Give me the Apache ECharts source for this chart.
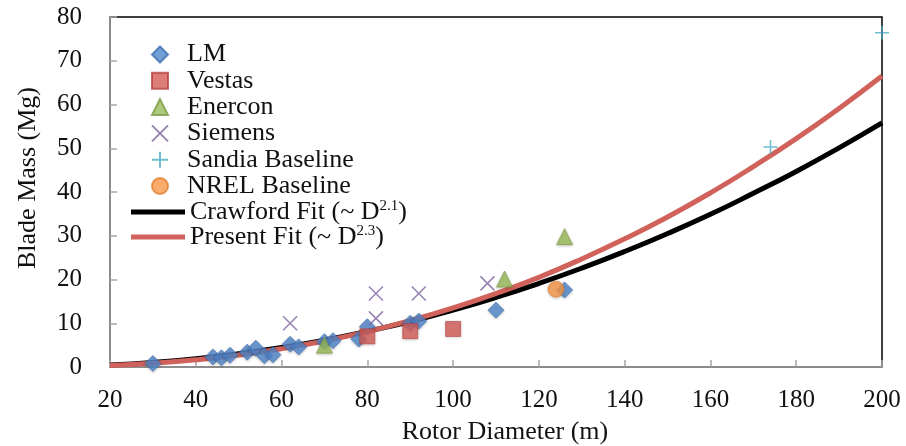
<!DOCTYPE html>
<html>
<head>
<meta charset="utf-8">
<script src="https://cdn.jsdelivr.net/npm/echarts@6/dist/echarts.min.js"></script>
<style>
  html, body { margin: 0; padding: 0; background: #ffffff; }
  #chart { width: 906px; height: 446px; }
</style>
</head>
<body>
<div id="chart"></div>
<script>
// Blade mass vs rotor diameter, by manufacturer, with two power-law fits
const xTicks = [20, 40, 60, 80, 100, 120, 140, 160, 180, 200];
const yTicks = [0, 10, 20, 30, 40, 50, 60, 70, 80];

const lmD    = [30, 44, 46, 48, 52, 54, 56, 58, 62, 64, 70, 72, 78, 80, 90, 92, 110, 126];
const lmMass = [0.8, 2.3, 2.1, 2.7, 3.4, 4.3, 2.6, 2.8, 5.2, 4.6, 5.8, 6.0, 6.4, 9.2, 10.0, 10.5, 13.0, 17.6];

const vestasD    = [80, 90, 100];
const vestasMass = [7.0, 8.2, 8.7];

const enerconD    = [70, 112, 126];
const enerconMass = [5.0, 20.1, 29.8];

const siemensD    = [62, 82, 82, 92, 108];
const siemensMass = [10.0, 11.1, 16.8, 16.8, 19.1];

const sandiaD    = [174, 200];
const sandiaMass = [50.3, 76.4];

const nrelD    = [124];
const nrelMass = [17.8];

// Fit curves sampled every 10 m
const fitD         = [20, 30, 40, 50, 60, 70, 80, 90, 100, 110, 120, 130, 140, 150, 160, 170, 180, 190, 200];
const crawfordMass = [0.44, 1.04, 1.9, 3.04, 4.45, 6.15, 8.15, 10.4, 13.0, 15.9, 19.1, 22.6, 26.4, 30.5, 34.9, 39.7, 44.7, 50.1, 55.8];
const presentMass  = [0.33, 0.85, 1.64, 2.74, 4.17, 5.94, 8.08, 10.6, 13.5, 16.8, 20.5, 24.7, 29.3, 34.3, 39.8, 45.8, 52.2, 59.1, 66.5];

const pairs = (xs, ys) => xs.map((x, i) => [x, ys[i]]);

const FONT = "'Liberation Serif', 'Times New Roman', serif";
const markerShadow = { shadowBlur: 3, shadowColor: 'rgba(0,0,0,0.25)', shadowOffsetY: 1 };

const fitLegend = (name, label, top) => ({
  orient: 'vertical', left: 131, top: top, padding: 0, itemWidth: 54, itemHeight: 5,
  data: [{ name: name, icon: 'rect' }],
  formatter: () => label,
  textStyle: {
    fontFamily: FONT, fontSize: 26, color: '#111',
    rich: {
      t: { fontFamily: FONT, fontSize: 26, color: '#111', lineHeight: 26 },
      s: { fontFamily: FONT, fontSize: 15, color: '#111', lineHeight: 18, verticalAlign: 'top', padding: [0, 0, 8, 0] }
    }
  }
});

const chart = echarts.init(document.getElementById('chart'), null, { renderer: 'canvas' });

chart.setOption({
  backgroundColor: '#ffffff',
  animation: false,
  grid: {
    left: 110, right: 24, top: 17, bottom: 79, outerBoundsMode: 'none', containLabel: false,
    show: true, borderColor: '#000000', borderWidth: 1.5, backgroundColor: 'transparent'
  },
  xAxis: {
    type: 'value', min: 20, max: 200, interval: 20,
    name: 'Rotor Diameter (m)', nameLocation: 'middle', nameGap: 52,
    nameTextStyle: { fontFamily: FONT, fontSize: 26, color: '#111', padding: [0, 0, 0, 18] },
    axisLine: { show: true, lineStyle: { color: '#a6a6a6', width: 1.5 } },
    axisTick: { show: true, inside: true, length: 7, lineStyle: { color: '#a6a6a6', width: 1.5 } },
    axisLabel: { fontFamily: FONT, fontSize: 25, color: '#111', margin: 21,
      formatter: v => xTicks.includes(v) ? String(v) : '' },
    splitLine: { show: false }
  },
  yAxis: {
    type: 'value', min: 0, max: 80, interval: 10,
    name: 'Blade Mass (Mg)', nameLocation: 'middle', nameGap: 69,
    nameTextStyle: { fontFamily: FONT, fontSize: 26, color: '#111', padding: [0, 0, 0, 28] },
    axisLine: { show: true, lineStyle: { color: '#a6a6a6', width: 1.5 } },
    axisTick: { show: true, inside: true, length: 7, lineStyle: { color: '#a6a6a6', width: 1.5 } },
    axisLabel: { fontFamily: FONT, fontSize: 25, color: '#111', margin: 28,
      formatter: v => yTicks.includes(v) ? String(v) : '' },
    splitLine: { show: false }
  },
  legend: [
    {
      orient: 'vertical', left: 151, top: 41.5, padding: 0, itemWidth: 16, itemHeight: 16, itemGap: 0.3,
      data: ['LM', 'Vestas', 'Enercon', 'Siemens', 'Sandia Baseline', 'NREL Baseline'],
      textStyle: { fontFamily: FONT, fontSize: 26, color: '#111', padding: [0, 0, 0, 14] }
    },
    fitLegend('Crawford Fit', '{t|Crawford Fit (~ D}{s|2.1}{t|)}', 199),
    fitLegend('Present Fit', '{t|Present Fit (~ D}{s|2.3}{t|)}', 224)
  ],
  series: [
    {
      name: 'Crawford Fit', type: 'line', data: pairs(fitD, crawfordMass), smooth: true,
      showSymbol: false, lineStyle: { color: '#000000', width: 5 }, itemStyle: { color: '#000000' }, z: 3
    },
    {
      name: 'Present Fit', type: 'line', data: pairs(fitD, presentMass), smooth: true,
      showSymbol: false, lineStyle: { color: '#d0625b', width: 5 }, itemStyle: { color: '#d0625b' }, z: 4
    },
    {
      name: 'LM', type: 'scatter', data: pairs(lmD, lmMass), symbol: 'diamond', symbolSize: 16,
      itemStyle: Object.assign({ color: '#4f86cc', borderColor: '#3c6eae', borderWidth: 0.8 }, markerShadow), z: 5
    },
    {
      name: 'Vestas', type: 'scatter', data: pairs(vestasD, vestasMass), symbol: 'rect', symbolSize: 15,
      itemStyle: Object.assign({ color: '#d45c58', borderColor: '#b8423f', borderWidth: 0.8 }, markerShadow), z: 5
    },
    {
      name: 'Enercon', type: 'scatter', data: pairs(enerconD, enerconMass), symbol: 'triangle', symbolSize: 16,
      itemStyle: Object.assign({ color: '#9bbb59', borderColor: '#7d9a44', borderWidth: 0.8 }, markerShadow), z: 5
    },
    {
      name: 'Siemens', type: 'scatter', data: pairs(siemensD, siemensMass),
      symbol: 'path://M0,0L10,10M10,0L0,10', symbolSize: 14,
      itemStyle: { color: 'rgba(0,0,0,0)', borderColor: '#8064a2', borderWidth: 1.6 }, z: 5
    },
    {
      name: 'Sandia Baseline', type: 'scatter', data: pairs(sandiaD, sandiaMass),
      symbol: 'path://M5,0L5,10M0,5L10,5', symbolSize: 14,
      itemStyle: { color: 'rgba(0,0,0,0)', borderColor: '#4bacc6', borderWidth: 1.6 }, z: 5
    },
    {
      name: 'NREL Baseline', type: 'scatter', data: pairs(nrelD, nrelMass), symbol: 'circle', symbolSize: 16,
      itemStyle: Object.assign({ color: '#f79646', borderColor: '#e07f30', borderWidth: 0.8 }, markerShadow), z: 5
    }
  ]
});
</script>
</body>
</html>
